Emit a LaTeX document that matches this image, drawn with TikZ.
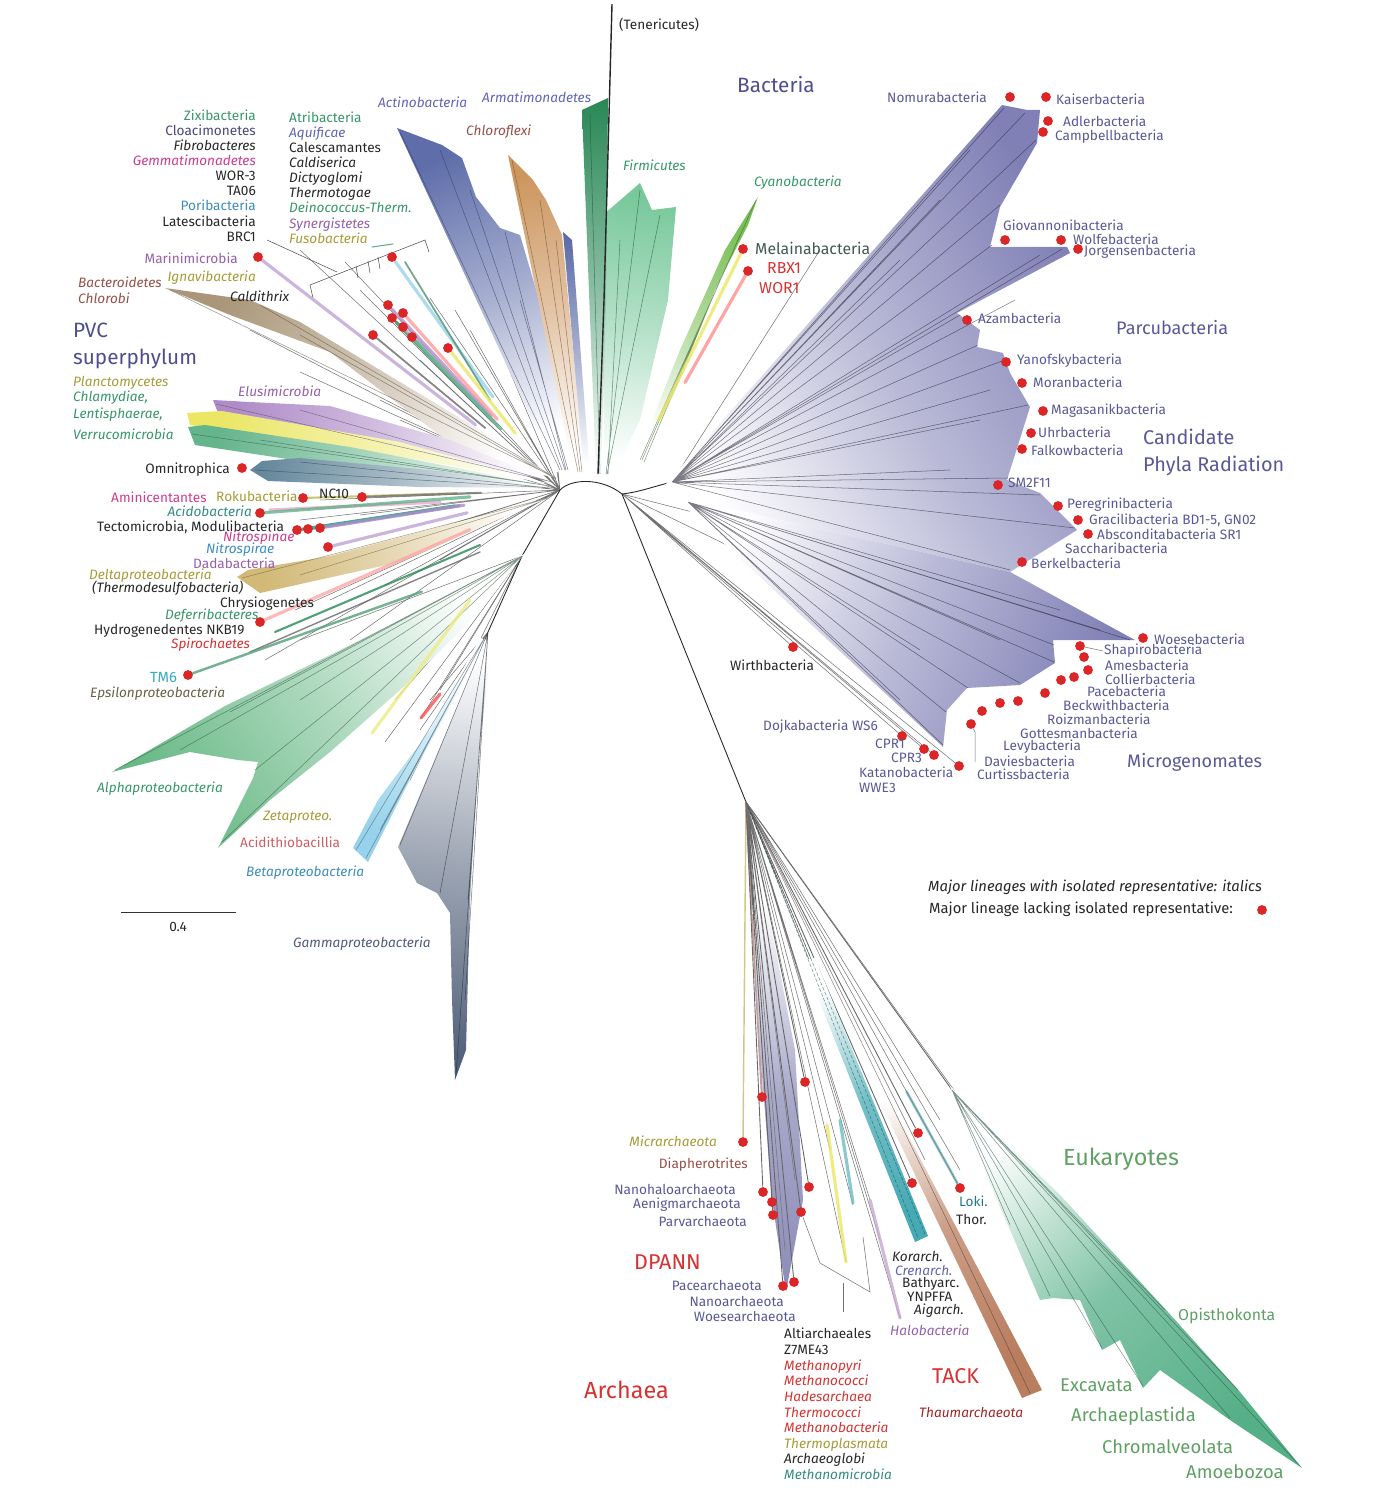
\documentclass[tikz,border=0pt]{standalone}
\usepackage{fontspec}
\setmainfont{Fira Sans}
\usepackage{tikz}
\usetikzlibrary{calc,backgrounds}

% colori dei testi
\definecolor{cprtxt}{RGB}{88,88,150}
\definecolor{bact}{RGB}{78,78,140}
\definecolor{dotred}{RGB}{218,38,38}
\definecolor{tgreen}{RGB}{55,150,105}
\definecolor{tnavy}{RGB}{70,70,125}
\definecolor{tviol}{RGB}{95,100,180}
\definecolor{tmag}{RGB}{205,60,140}
\definecolor{tblue}{RGB}{60,140,190}
\definecolor{tteal}{RGB}{50,140,130}
\definecolor{tpurp}{RGB}{150,95,170}
\definecolor{tolive}{RGB}{165,155,55}
\definecolor{tbrown}{RGB}{150,80,70}
\definecolor{tred}{RGB}{215,50,50}
\definecolor{tpink}{RGB}{205,95,100}
\definecolor{tcyan}{RGB}{50,170,200}
\definecolor{tgray}{RGB}{80,90,130}
\definecolor{tdark}{RGB}{105,95,70}
\definecolor{tmel}{RGB}{65,90,80}
\definecolor{teuk}{RGB}{95,160,100}
% colori dei cladi
\definecolor{cpr}{RGB}{128,128,182}
\definecolor{cactin}{RGB}{95,110,170}
\definecolor{cchlor}{RGB}{205,150,95}
\definecolor{cfirm}{RGB}{120,200,155}
\definecolor{cfirmd}{RGB}{40,135,85}
\definecolor{ccyano}{RGB}{120,190,85}
\definecolor{cbact}{RGB}{170,150,120}
\definecolor{celus}{RGB}{175,140,200}
\definecolor{cplan}{RGB}{235,230,100}
\definecolor{cverr}{RGB}{100,180,140}
\definecolor{comni}{RGB}{100,135,155}
\definecolor{cdelta}{RGB}{210,185,120}
\definecolor{calpha}{RGB}{105,185,135}
\definecolor{cbeta}{RGB}{150,210,235}
\definecolor{cgamma}{RGB}{80,95,120}
\definecolor{cdpann}{RGB}{140,140,185}
\definecolor{ccren}{RGB}{70,170,180}
\definecolor{cthaum}{RGB}{185,125,95}
\definecolor{ceuk}{RGB}{85,175,135}

\newcommand{\labfont}{\fontsize{7.75}{8.55}\selectfont}
\newcommand{\medfont}{\fontsize{8.4}{10}\selectfont}
\newcommand{\melfont}{\fontsize{9}{10}\selectfont}
\newcommand{\eukfont}{\fontsize{10.5}{12}\selectfont}
\newcommand{\midfont}{\fontsize{10.3}{15.3}\selectfont}
\newcommand{\cprfont}{\fontsize{11.3}{15.3}\selectfont}
\newcommand{\grpfont}{\fontsize{12.2}{14}\selectfont}
\newcommand{\bigfont}{\fontsize{11.8}{15.3}\selectfont}
\newcommand{\hugefont}{\fontsize{13.3}{15}\selectfont}
\tikzset{
    every node/.style={font=\labfont, text=black!85, inner sep=0.5pt},
}

\begin{document}
\begin{tikzpicture}[x=0.02cm, y=-0.02cm,
        clade/.style 2 args={bottom color=white, top color=#1, middle color=#1!55!white, shading angle=#2},
        rib/.style={draw=#1, line width=0.3pt, opacity=0.6},
        twig/.style={draw=black!55, line width=0.3pt},
        branch/.style={draw=black!85, line width=0.5pt},
        stripe/.style={draw=#1, line width=1.8pt, line cap=round, opacity=0.8},
        rdot/.style={circle, fill=dotred, inner sep=0pt, minimum size=5.6pt},
        itl/.style={font=\labfont\itshape},
        med/.style={font=\medfont},
        mid/.style={font=\midfont},
        big/.style={font=\bigfont},
        grp/.style={font=\grpfont},
        huge/.style={font=\hugefont},
        euklab/.style={font=\eukfont, text=teuk}
    ]
    \useasboundingbox (0,0) rectangle (1373,1500);

    % nodi interni dell'albero
    \coordinate (hL) at (560,490);
    \coordinate (hA) at (522,556);
    \coordinate (hG) at (488,632);
    \coordinate (hArc) at (622,494);
    \coordinate (hR) at (672,482);
    \coordinate (hM) at (688,502);
    \coordinate (arc) at (746,802);
    \coordinate (euk) at (952,1090);

    % punti rossi (lineaggi senza rappresentante isolato)
    \node[rdot] (dMarin) at (258,257) {}; \node[rdot] (dA1) at (392,257) {}; \node[rdot] (dA2) at (388,305) {};
    \node[rdot] (dA3) at (403,313) {}; \node[rdot] (dA4) at (392,318) {}; \node[rdot] (dA5) at (403,327) {};
    \node[rdot] (dA6) at (412,337) {}; \node[rdot] (dA7) at (373,335) {}; \node[rdot] (dA8) at (448,348) {};
    \node[rdot] (dOmni) at (242,468) {}; \node[rdot] (dRoku) at (303,498) {}; \node[rdot] (dNC) at (362,497) {};
    \node[rdot] (dAcido) at (260,513) {}; \node[rdot] (dTect1) at (297,530) {}; \node[rdot] (dTect2) at (308,529) {};
    \node[rdot] (dTect3) at (320,528) {}; \node[rdot] (dNitro) at (328,547) {}; \node[rdot] (dHydro) at (260,622) {};
    \node[rdot] (dTM) at (188,675) {};
    \node[rdot] (dMela) at (743,249) {}; \node[rdot] (dRBX) at (748,271) {};
    % CPR
    \node[rdot] (dNomu) at (1010,97) {}; \node[rdot] (dKais) at (1046,97) {}; \node[rdot] (dAdler) at (1048,121) {};
    \node[rdot] (dCamp) at (1043,132) {}; \node[rdot] (dGiov) at (1005,240) {}; \node[rdot] (dWolf) at (1061,240) {};
    \node[rdot] (dJorg) at (1078,249) {}; \node[rdot] (dAzam) at (967,320) {}; \node[rdot] (dYano) at (1006,362) {};
    \node[rdot] (dMoran) at (1022,383) {}; \node[rdot] (dMaga) at (1043,411) {}; \node[rdot] (dUhr) at (1031,433) {};
    \node[rdot] (dFalk) at (1022,449) {}; \node[rdot] (dSM) at (998,485) {}; \node[rdot] (dPere) at (1058,506) {};
    \node[rdot] (dGrac) at (1078,520) {}; \node[rdot] (dAbsc) at (1088,534) {}; \node[rdot] (dBerk) at (1022,562) {};
    \node[rdot] (dWoese) at (1143,638) {}; \node[rdot] (dShap) at (1080,646) {}; \node[rdot] (dAmes) at (1084,657) {};
    \node[rdot] (dColl) at (1088,670) {}; \node[rdot] (dPace) at (1074,677) {}; \node[rdot] (dBeck) at (1061,680) {};
    \node[rdot] (dRoiz) at (1045,693) {}; \node[rdot] (dGott) at (1018,701) {}; \node[rdot] (dLevy) at (1000,703) {};
    \node[rdot] (dDavi) at (982,711) {}; \node[rdot] (dCurt) at (971,724) {}; \node[rdot] (dDojk) at (902,736) {};
    \node[rdot] (dCPR1) at (924,749) {}; \node[rdot] (dCPR3) at (934,755) {}; \node[rdot] (dKata) at (959,766) {};
    \node[rdot] (dWirth) at (793,647) {};
    % archei
    \node[rdot] (dMicr) at (743,1142) {}; \node[rdot] (dDiap) at (762,1097) {}; \node[rdot] (dEury) at (805,1082) {};
    \node[rdot] (dNanoh) at (763,1192) {}; \node[rdot] (dAenig) at (772,1202) {}; \node[rdot] (dParv) at (773,1215) {};
    \node[rdot] (dE2) at (809,1187) {}; \node[rdot] (dE3) at (801,1212) {}; \node[rdot] (dPace2) at (783,1286) {};
    \node[rdot] (dNano2) at (794,1282) {}; \node[rdot] (dT1) at (918,1133) {}; \node[rdot] (dT2) at (912,1183) {};
    \node[rdot] (dLoki) at (960,1188) {};
    \node[rdot] (dLeg) at (1262,910) {};

    % etichette batteri, in alto a sinistra
    \node[anchor=north east, align=right] (colA) at (257,109) {{\color{tgreen}Zixibacteria}\\{\color{tnavy}Cloacimonetes}\\\textit{Fibrobacteres}\\{\color{tmag}\textit{Gemmatimonadetes}}\\WOR-3\\TA06\\{\color{tblue}Poribacteria}\\Latescibacteria\\BRC1};
    \node[anchor=north west, align=left] (colB) at (288,111) {{\color{tgreen}Atribacteria}\\{\color{tviol}\textit{Aquificae}}\\Calescamantes\\\textit{Caldiserica}\\\textit{Dictyoglomi}\\\textit{Thermotogae}\\{\color{tgreen}\textit{Deinococcus-Therm.}}\\{\color{tpurp}\textit{Synergistetes}}\\{\color{tolive}\textit{Fusobacteria}}};
    \node[anchor=east, text=tpurp] (marin) at (239,258) {Marinimicrobia};
    \node[anchor=east, itl, text=tolive] (ignav) at (257,278) {Ignavibacteria};
    \node[anchor=west, itl, text=tbrown] (bacter) at (77,282) {Bacteroidetes};
    \node[anchor=west, itl, text=tbrown] (chlorobi) at (77,298) {Chlorobi};
    \node[anchor=west, itl] (caldi) at (229,296) {Caldithrix};
    \node[anchor=north west, big, text=bact, align=left] (pvc) at (72,322) {PVC\\superphylum};
    \node[anchor=west, itl, text=tolive] (planc) at (72,383) {Planctomycetes};
    \node[anchor=west, itl, text=tgreen] (chlam) at (72,398) {Chlamydiae,};
    \node[anchor=west, itl, text=tgreen] (lenti) at (72,415) {Lentisphaerae,};
    \node[anchor=west, itl, text=tgreen] (verru) at (72,434) {Verrucomicrobia};
    \node[anchor=west, itl, text=tpurp] (elusi) at (237,391) {Elusimicrobia};
    \node[anchor=east] (omni) at (231,470) {Omnitrophica};
    \node[anchor=west, text=tmag] (amini) at (110,497) {Aminicentantes};
    \node[anchor=west, text=tolive] (roku) at (215,496) {Rokubacteria};
    \node[anchor=west] (nc10) at (318,494) {NC10};
    \node[anchor=east, itl, text=tteal] (acido) at (253,511) {Acidobacteria};
    \node[anchor=west] (tecto) at (96,527) {Tectomicrobia, Modulibacteria};
    \node[anchor=west, itl, text=tmag] (nitrospin) at (222,538) {Nitrospinae};
    \node[anchor=west, itl, text=tblue] (nitrospir) at (205,550) {Nitrospirae};
    \node[anchor=west, text=tpurp] (dada) at (192,563) {Dadabacteria};
    \node[anchor=west, itl, text=tolive] (delta) at (88,576) {Deltaproteobacteria};
    \node[anchor=west, itl] (thermodes) at (91,588) {(Thermodesulfobacteria)};
    \node[anchor=west] (chrys) at (219,604) {Chrysiogenetes};
    \node[anchor=west, itl, text=tgreen] (deferr) at (164,616) {Deferribacteres};
    \node[anchor=west] (hydro) at (93,631) {Hydrogenedentes NKB19};
    \node[anchor=west, itl, text=tred] (spiro) at (170,645) {Spirochaetes};
    \node[anchor=west, med, text=tcyan] (tm6) at (149,677) {TM6};
    \node[anchor=west, itl, text=tdark] (epsilon) at (89,694) {Epsilonproteobacteria};
    \node[anchor=west, itl, text=tgreen] (alpha) at (96,789) {Alphaproteobacteria};
    \node[anchor=west, itl, text=tolive] (zeta) at (262,817) {Zetaproteo.};
    \node[anchor=west, text=tpink] (acidith) at (239,842) {Acidithiobacillia};
    \node[anchor=west, itl, text=tblue] (beta) at (245,873) {Betaproteobacteria};
    \node[anchor=west, itl, text=tgray] (gamma) at (292,944) {Gammaproteobacteria};

    % scala
    \coordinate (sb1) at (121,912);
    \coordinate (sb2) at (236,912);
    \draw[black!80, line width=0.5pt] (sb1) -- (sb2);
    \node (sbar) at (178,927) {0.4};

    % etichette batteri, in alto
    \node[anchor=west, itl, text=tviol] (actino) at (377,102) {Actinobacteria};
    \node[anchor=west, itl, text=tviol] (armat) at (481,97) {Armatimonadetes};
    \node[anchor=west, itl, text=tbrown] (chlorofl) at (465,132) {Chloroflexi};
    \node[anchor=west] (teneri) at (618,25) {(Tenericutes)};
    \node[anchor=west, itl, text=tgreen] (firmi) at (622,165) {Firmicutes};
    \node[anchor=west, big, text=bact] (bacteria) at (736,85) {Bacteria};
    \node[anchor=west, itl, text=tgreen] (cyano) at (753,183) {Cyanobacteria};
    \node[anchor=west, font=\melfont, text=tmel] (melai) at (754,248) {Melainabacteria};
    \node[anchor=west, font=\melfont, text=tred] (rbx1) at (766,268) {RBX1};
    \node[anchor=west, font=\melfont, text=tred] (wor1) at (758,288) {WOR1};

    % etichette CPR
    \node[anchor=east, text=cprtxt] (nomura) at (988,97) {Nomurabacteria};
    \node[anchor=west, text=cprtxt] (kaiser) at (1055,99) {Kaiserbacteria};
    \node[anchor=west, text=cprtxt] (adler) at (1062,121) {Adlerbacteria};
    \node[anchor=west, text=cprtxt] (campb) at (1054,137) {Campbellbacteria};
    \node[anchor=west, text=cprtxt] (giova) at (1002,225) {Giovannonibacteria};
    \node[anchor=west, text=cprtxt] (wolfe) at (1072,239) {Wolfebacteria};
    \node[anchor=west, text=cprtxt] (jorge) at (1083,252) {Jorgensenbacteria};
    \node[anchor=west, text=cprtxt] (azamb) at (977,318) {Azambacteria};
    \node[anchor=west, mid, text=cprtxt] (parcu) at (1115,328) {Parcubacteria};
    \node[anchor=west, text=cprtxt] (yanof) at (1016,361) {Yanofskybacteria};
    \node[anchor=west, text=cprtxt] (moran) at (1032,382) {Moranbacteria};
    \node[anchor=west, text=cprtxt] (magas) at (1050,411) {Magasanikbacteria};
    \node[anchor=west, text=cprtxt] (uhrba) at (1037,432) {Uhrbacteria};
    \node[anchor=west, text=cprtxt] (falko) at (1030,450) {Falkowbacteria};
    \node[anchor=north west, font=\cprfont, text=cprtxt, align=left] (cpr) at (1142,428) {Candidate\\Phyla Radiation};
    \node[anchor=west, text=cprtxt] (sm2f11) at (1007,483) {SM2F11};
    \node[anchor=west, text=cprtxt] (peregr) at (1066,505) {Peregrinibacteria};
    \node[anchor=west, text=cprtxt] (gracil) at (1088,520) {Gracilibacteria BD1-5, GN02};
    \node[anchor=west, text=cprtxt] (abscon) at (1096,534) {Absconditabacteria SR1};
    \node[anchor=west, text=cprtxt] (sacch) at (1064,548) {Saccharibacteria};
    \node[anchor=west, text=cprtxt] (berkel) at (1030,563) {Berkelbacteria};
    \node[anchor=west, text=cprtxt] (woese) at (1153,639) {Woesebacteria};
    \node[anchor=west, text=cprtxt] (shapi) at (1103,651) {Shapirobacteria};
    \node[anchor=west, text=cprtxt] (amesb) at (1104,665) {Amesbacteria};
    \node[anchor=west, text=cprtxt] (collie) at (1104,679) {Collierbacteria};
    \node[anchor=west, text=cprtxt] (paceb) at (1086,691) {Pacebacteria};
    \node[anchor=west, text=cprtxt] (beckw) at (1062,705) {Beckwithbacteria};
    \node[anchor=west, text=cprtxt] (roizm) at (1046,719) {Roizmanbacteria};
    \node[anchor=west, text=cprtxt] (gottes) at (1019,733) {Gottesmanbacteria};
    \node[anchor=west, text=cprtxt] (levyb) at (1002,747) {Levybacteria};
    \node[anchor=west, text=cprtxt] (davies) at (983,761) {Daviesbacteria};
    \node[anchor=west, text=cprtxt] (curtis) at (976,774) {Curtissbacteria};
    \node[anchor=west, mid, text=cprtxt] (microg) at (1126,762) {Microgenomates};
    \node[anchor=west, text=cprtxt] (dojka) at (762,727) {Dojkabacteria WS6};
    \node[anchor=west, text=cprtxt] (cpr1) at (874,744) {CPR1};
    \node[anchor=west, text=cprtxt] (cpr3) at (890,758) {CPR3};
    \node[anchor=west, text=cprtxt] (katano) at (858,772) {Katanobacteria};
    \node[anchor=west, text=cprtxt] (wwe3) at (858,788) {WWE3};
    \node[anchor=west] (wirth) at (729,665) {Wirthbacteria};

    % legenda
    \node[anchor=west, font=\medfont\itshape] (leg1) at (927,887) {Major lineages with isolated representative: italics};
    \node[anchor=west, med] (leg2) at (928,909) {Major lineage lacking isolated representative:};

    % etichette archei ed eucarioti
    \node[anchor=east, itl, text=tolive] (micrar) at (718,1141) {Micrarchaeota};
    \node[anchor=east, text=tbrown] (diaph) at (749,1165) {Diapherotrites};
    \node[anchor=east, text=cprtxt] (nanoh) at (737,1189) {Nanohaloarchaeota};
    \node[anchor=east, text=cprtxt] (aenig) at (742,1205) {Aenigmarchaeota};
    \node[anchor=east, text=cprtxt] (parva) at (748,1221) {Parvarchaeota};
    \node[anchor=west, grp, text=tred] (dpann) at (633,1262) {DPANN};
    \node[anchor=east, text=cprtxt] (pacea) at (763,1285) {Pacearchaeota};
    \node[anchor=east, text=cprtxt] (nanoa) at (785,1301) {Nanoarchaeota};
    \node[anchor=east, text=cprtxt] (woesa) at (797,1316) {Woesearchaeota};
    \node[anchor=west, huge, text=tred] (archaea) at (583,1390) {Archaea};
    \node[anchor=north west, align=left, font=\fontsize{7.75}{8.9}\selectfont] (colE) at (783,1327) {Altiarchaeales\\Z7ME43\\{\color{tred}\textit{Methanopyri}}\\{\color{tred}\textit{Methanococci}}\\{\color{tred}\textit{Hadesarchaea}}\\{\color{tred}\textit{Thermococci}}\\{\color{tred}\textit{Methanobacteria}}\\{\color{tolive}\textit{Thermoplasmata}}\\\textit{Archaeoglobi}\\{\color{tteal}\textit{Methanomicrobia}}};
    \node[anchor=west, itl] (korar) at (891,1256) {Korarch.};
    \node[anchor=west, itl, text=tviol] (crena) at (894,1270) {Crenarch.};
    \node[anchor=west] (bathy) at (901,1284) {Bathyarc.};
    \node[anchor=west] (ynpffa) at (906,1297) {YNPFFA};
    \node[anchor=west, itl] (aigar) at (913,1311) {Aigarch.};
    \node[anchor=west, itl, text=tpurp] (halob) at (889,1330) {Halobacteria};
    \node[anchor=west, text=tcyan!70!black] (loki) at (958,1201) {Loki.};
    \node[anchor=west] (thor) at (955,1219) {Thor.};
    \node[anchor=west, grp, text=tred] (tack) at (931,1376) {TACK};
    \node[anchor=west, itl, text=tred!75!black] (thaum) at (918,1412) {Thaumarchaeota};
    \node[anchor=west, huge, text=teuk] (eukar) at (1062,1159) {Eukaryotes};
    \node[anchor=west, font=\melfont, text=teuk] (opist) at (1177,1316) {Opisthokonta};
    \node[anchor=west, euklab] (excav) at (1059,1385) {Excavata};
    \node[anchor=west, euklab] (archpl) at (1070,1416) {Archaeplastida};
    \node[anchor=west, euklab] (chroma) at (1101,1447) {Chromalveolata};
    \node[anchor=west, euklab] (amoeb) at (1185,1472) {Amoebozoa};

    \begin{scope}[on background layer]
    % rami grigi sottili
    \draw[twig] (hL) -- (300,250) (hL) -- (345,262) (hL) -- (360,290) (hL) -- (430,298) (hL) -- (470,330)
        (hL) -- (505,360) (hL) -- (250,330) (hL) -- (300,372) (hL) -- (330,420) (hL) -- (285,455)
        (hL) -- (350,468) (hL) -- (300,520) (hL) -- (340,560) (hL) -- (385,585) (hL) -- (295,610)
        (hL) -- (350,640) (hL) -- (265,660) (hL) -- (520,250) (hL) -- (540,300) (hL) -- (455,310)
        (hL) -- (420,360) (hL) -- (380,400) (hL) -- (400,420) (hL) -- (320,500) (hL) -- (360,515)
        (hL) -- (400,540) (hL) -- (330,600) (hL) -- (420,590) (hL) -- (440,560);
    \draw[twig] (hA) -- (300,640) (hA) -- (255,700) (hA) -- (350,700) (hA) -- (385,742) (hA) -- (410,780) (hA) -- (420,650)
        (hA) -- (330,680) (hA) -- (395,700) (hA) -- (440,690);
    \draw[twig] (hG) -- (420,730) (hG) -- (440,762) (hG) -- (462,800) (hG) -- (430,700);
    \draw[twig] (hR) -- (870,300) (hR) -- (900,420) (hR) -- (820,250) (hR) -- (850,380) (hArc) -- (880,560) (hArc) -- (840,600);
    \draw[twig] (hArc) -- (dWirth) (hArc) -- (dDojk) (hArc) -- (dCPR1) (hArc) -- (dCPR3) (hArc) -- (dKata);
    \draw[twig] (dCurt) -- ++(4,8) -- ++(0,30);
    \draw[twig] (dShap) -- (shapi.west);

    % parentesi in alto a sinistra
    \draw[twig, black!70] (267,240) -- (337,272);
    \draw[twig, black!70] (313,298) -- (310,285) -- (425,240) -- (429,252);
    \draw[twig, black!70] (356,266) -- (358,278) (368,261) -- (370,273) (378,257) -- (380,269);
    \draw[stripe=tgreen, line width=0.6pt] (372,247) -- (393,244);

    % tronco
    \draw[branch] (hG) -- (hA) -- (hL) .. controls (572,478) and (602,478) .. (hArc) .. controls (640,492) and (655,486) .. (hR);
    \draw[branch] (hArc) -- (arc);

    % Actinobacteria, Chloroflexi, Armatimonadetes
    \shade[clade={cactin}{22}] (397,128) -- (442,145) -- (462,158) -- (476,197) -- (500,228) -- (520,235) -- (548,330) -- (572,470) -- (556,472) -- cycle;
    \draw[rib=cactin!50!black] (560,470) -- (400,132) (562,470) -- (440,150) (565,470) -- (470,190) (566,470) -- (505,232) (568,470) -- (520,300);
    \shade[clade={cchlor}{10}] (508,155) -- (533,180) -- (546,200) -- (562,235) -- (578,400) -- (586,474) -- (574,474) -- cycle;
    \draw[rib=cchlor!50!black] (578,472) -- (512,160) (580,472) -- (540,200) (582,472) -- (556,240);
    \shade[clade={cactin}{5}] (563,232) -- (572,240) -- (590,474) -- (584,474) -- cycle;

    % Firmicutes, Tenericutes
    \shade[clade={cfirm}{-8}] (603,215) -- (640,183) -- (652,210) -- (676,207) -- (668,300) -- (640,420) -- (612,476) -- (604,476) -- cycle;
    \shade[clade={cfirmd}{0}] (582,110) -- (608,98) -- (606,300) -- (601,474) -- (596,474) -- cycle;
    \draw[rib=cfirmd!60!black] (606,474) -- (640,190) (607,474) -- (660,215) (608,474) -- (620,240) (600,474) -- (590,115);
    \draw[branch, line width=0.8pt] (598,474) -- (604,300) -- (612,4);

    % Cyanobacteria
    \shade[clade={ccyano}{-24}] (758,197) -- (748,225) -- (715,290) -- (680,380) -- (645,462) -- (636,460) -- (680,350) -- (725,250) -- cycle;
    \draw[rib=ccyano!50!black] (640,460) -- (756,200) (642,460) -- (740,235) (644,462) -- (720,280);
    \draw[stripe=cplan] (dMela) -- ($(dMela)!0.7!(hArc)$);
    \draw[stripe=red!45] (dRBX) -- ($(dRBX)!0.5!(hArc)$);

    % Bacteroidetes, Chlorobi
    \shade[clade={cbact}{63}] (165,288) -- (250,300) -- (300,322) -- (480,430) -- (556,478) -- (470,458) -- (330,352) -- (230,315) -- cycle;
    \draw[rib=cbact!50!black] (556,478) -- (170,290) (556,478) -- (260,305) (556,479) -- (300,335);

    % PVC
    \shade[clade={celus}{80}] (213,400) -- (250,402) -- (330,406) -- (450,440) -- (552,482) -- (440,454) -- (220,418) -- cycle;
    \shade[clade={cplan}{78}] (187,413) -- (222,411) -- (400,442) -- (550,484) -- (420,460) -- (190,425) -- cycle;
    \shade[clade={cverr}{78}] (188,427) -- (205,425) -- (350,447) -- (550,486) -- (360,470) -- (195,445) -- cycle;
    \draw[rib=celus!50!black] (552,482) -- (216,404) (552,482) -- (300,410);
    \draw[rib=cverr!50!black] (550,486) -- (192,434) (550,486) -- (260,440);

    % Omnitrophica, Deltaproteobacteria
    \shade[clade={comni}{86}] (250,470) -- (262,461) -- (300,458) -- (450,472) -- (550,488) -- (420,487) -- (268,481) -- cycle;
    \draw[rib=comni!50!black] (550,488) -- (255,470) (550,488) -- (300,462);
    \shade[clade={cdelta}{105}] (237,577) -- (248,570) -- (330,556) -- (548,498) -- (400,562) -- (260,593) -- cycle;
    \draw[rib=cdelta!50!black] (548,498) -- (242,578) (548,498) -- (300,575);

    % righe colorate con punto rosso
    \draw[stripe=celus!80] (dMarin) -- ($(dMarin)!0.72!(hL)$);
    \draw[stripe=cbeta] (dA1) -- ($(dA1)!0.6!(hL)$);
    \draw[stripe=cverr!80!black, line width=1pt] (405,262) -- (490,400);
    \draw[stripe=celus] (dA2) -- ($(dA2)!0.6!(hL)$);
    \draw[stripe=red!40] (dA3) -- ($(dA3)!0.6!(hL)$);
    \draw[stripe=cfirmd] (dA4) -- ($(dA4)!0.6!(hL)$);
    \draw[stripe=celus!70] (dA5) -- ($(dA5)!0.6!(hL)$);
    \draw[stripe=cverr] (dA6) -- ($(dA6)!0.6!(hL)$);
    \draw[stripe=black!60, line width=1pt] (dA7) -- ($(dA7)!0.6!(hL)$);
    \draw[stripe=cplan] (dA8) -- ($(dA8)!0.6!(hL)$);
    \draw[stripe=tmag!45] (270,510) -- (440,502);
    \draw[stripe=cplan!80!black, line width=1.2pt] (dRoku) -- ($(dRoku)!0.6!(hL)$);
    \draw[stripe=black!55, line width=1.2pt] (dNC) -- ($(dNC)!0.6!(hL)$);
    \draw[stripe=cverr] (dAcido) -- ($(dAcido)!0.7!(hL)$);
    \draw[stripe=cfirmd] (dTect1) -- ($(dTect1)!0.6!(hL)$);
    \draw[stripe=ccren] (dTect2) -- ($(dTect2)!0.6!(hL)$);
    \draw[stripe=celus] (dTect3) -- ($(dTect3)!0.6!(hL)$);
    \draw[stripe=celus!80] (dNitro) -- ($(dNitro)!0.6!(hL)$);
    \draw[stripe=red!35] (dHydro) -- ($(dHydro)!0.7!(hL)$);
    \draw[stripe=cfirmd, line width=1.2pt] (275,632) -- (480,545);
    \draw[stripe=black!60, line width=0.8pt] (250,652) -- (480,552);
    \draw[stripe=cfirmd!80, line width=1.4pt] (dTM) -- ($(dTM)!0.7!(hA)$);

    % Alphaproteobacteria, Zetaproteo., Acidithiobacillia
    \shade[clade={calpha}{124}] (112,772) -- (225,706) -- (330,655) -- (440,600) -- (524,554) -- (480,612) -- (400,690) -- (330,752) -- (270,800) -- (218,848) -- (253,778) -- (258,762) -- (238,760) -- (190,752) -- cycle;
    \draw[rib=calpha!45!black] (hA) -- (115,770) (hA) -- (180,750) (hA) -- (222,842) (hA) -- (255,770) (hA) -- (230,712) (hA) -- (300,700);
    \draw[stripe=cplan!80] (372,733) -- (470,600);
    \draw[twig] (hA) -- (421,718);
    \draw[stripe=red!70] (421,718) -- (440,694);

    % Beta- e Gammaproteobacteria
    \shade[clade={cbeta}{150}] (353,848) -- (368,862) -- (420,760) -- (487,640) -- (480,638) -- (430,730) -- (378,800) -- cycle;
    \draw[rib=cbeta!40!black] (hG) -- (356,850) (hG) -- (366,858) (hG) -- (380,830);
    \shade[clade={cgamma}{174}] (455,1080) -- (466,1050) -- (470,900) -- (478,760) -- (492,640) -- (485,640) -- (445,735) -- (398,847) -- (417,883) -- (437,893) -- (450,913) -- (452,1000) -- cycle;
    \draw[rib=cgamma!40!black] (hG) -- (456,1075) (hG) -- (465,1000) (hG) -- (400,845) (hG) -- (440,893) (hG) -- (468,900);

    % CPR: Parcubacteria e Microgenomates
    \shade[clade={cpr}{-61}] (666,484) -- (1002,105) -- (1027,110) -- (1040,110) -- (1037,143) -- (1000,207) -- (990,247) -- (1067,247) -- (1070,253) -- (957,313) -- (980,330) -- (977,347) -- (1003,353) -- (1010,373) -- (1030,407) -- (1007,480) -- (1040,493) -- (1077,530) -- (1010,572) -- (684,498) -- cycle;
    \shade[clade={cpr}{-114}] (684,498) -- (1010,572) -- (1135,640) -- (1053,640) -- (1055,663) -- (1020,685) -- (967,688) -- (947,710) -- (943,747) -- (690,512) -- cycle;
    \draw[rib=cpr!30!black] (hR) -- (1004,108) (hR) -- (1025,113) (hR) -- (1036,140) (hR) -- (1000,205)
        (hR) -- (992,245) (hR) -- (1062,249) (hR) -- (1040,255) (hR) -- (960,315) (hR) -- (900,260)
        (hR) -- (940,200) (hR) -- (978,345) (hR) -- (1005,360) (hR) -- (1028,405) (hR) -- (980,420)
        (hR) -- (1008,478) (hR) -- (950,470) (hR) -- (1040,495) (hR) -- (1075,528) (hR) -- (1010,570)
        (hR) -- (970,150) (hR) -- (1015,300) (hR) -- (990,390);
    \draw[rib=cpr!30!black] (hM) -- (1130,640) (hM) -- (1100,630) (hM) -- (1054,645) (hM) -- (1054,662)
        (hM) -- (1020,683) (hM) -- (968,688) (hM) -- (946,712) (hM) -- (943,745) (hM) -- (900,700)
        (hM) -- (1000,640) (hM) -- (920,650) (hM) -- (1060,610);

    % archei
    \draw[stripe=tolive!70, line width=0.8pt] (arc) -- (dMicr);
    \draw[stripe=tbrown!70, line width=1.2pt] (arc) -- (dDiap);
    \shade[clade={cdpann}{180}, middle color=cdpann!75!white] (752,900) -- (766,900) -- (795,1050) -- (803,1200) -- (786,1292) -- (772,1200) -- (760,1050) -- cycle;
    \draw[branch, black!60] (arc) -- (dNanoh) (arc) -- (dAenig) (arc) -- (dParv) (arc) -- (dPace2) (arc) -- (dNano2)
        (arc) -- (dEury) (arc) -- (dE2) (arc) -- (dE3) (arc) -- (dT1) (arc) -- (dT2) (arc) -- (euk);
    \draw[twig] (arc) -- (846,1262) (arc) -- (853,1205) (arc) -- (900,1318) (arc) -- (880,1240) (arc) -- (870,1200)
        (arc) -- (905,1200) (arc) -- (960,1170) (arc) -- (940,1120) (arc) -- (990,1140) (arc) -- (830,1150)
        (arc) -- (785,1250) (arc) -- (795,1180) (arc) -- (890,1150) (arc) -- (925,1160);
    \draw[twig] (dE3) -- (820,1263) -- (870,1292) -- (863,1237);
    \draw[twig] (843,1283) -- (843,1312);
    \draw[stripe=cplan] (827,1125) -- (846,1262);
    \draw[stripe=ccren!80] (840,1120) -- (853,1203);
    \draw[stripe=tpurp!55] (870,1200) -- (900,1318);
    \shade[clade={ccren}{-158}, middle color=ccren!75!white] (803,960) -- (815,958) -- (928,1236) -- (915,1242) -- cycle;
    \draw[rib=ccren!40!black, dash pattern=on 2pt off 1pt] (arc) -- (918,1238) (arc) -- (925,1234);
    \shade[clade={cthaum}{-154}, middle color=cthaum!75!white] (860,1060) -- (866,1056) -- (1042,1390) -- (1022,1398) -- cycle;
    \draw[rib=cthaum!40!black] (arc) -- (1030,1393);
    \draw[stripe=ccren!80, line width=1.5pt] (dLoki) -- ($(dLoki)!0.25!(arc)$);
    \draw[twig] (arc) -- (dLoki);

    % eucarioti
    \shade[clade={ceuk}{-138}, middle color=ceuk!75!white] (950,1086) -- (1060,1195) -- (1168,1312) -- (1240,1392) -- (1302,1468) -- (1230,1420) -- (1160,1370) -- (1143,1388) -- (1120,1340) -- (1102,1350) -- (1080,1300) -- (1053,1298) -- (1040,1300) -- (1010,1230) -- (975,1150) -- cycle;
    \draw[rib=ceuk!45!black] (euk) -- (1300,1466) (euk) -- (1230,1418) (euk) -- (1143,1386) (euk) -- (1102,1348)
        (euk) -- (1050,1296) (euk) -- (1165,1310) (euk) -- (1010,1225) (euk) -- (1238,1390);
    \end{scope}
\end{tikzpicture}
\end{document}
